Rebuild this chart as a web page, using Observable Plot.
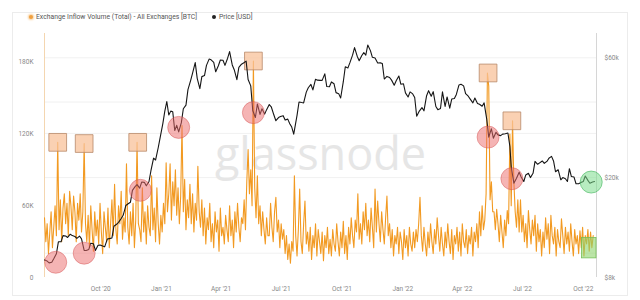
<!DOCTYPE html>
<html><head><meta charset="utf-8">
<script src="https://cdn.jsdelivr.net/npm/d3@7"></script>
<script src="https://cdn.jsdelivr.net/npm/@observablehq/plot@0.6"></script>
<style>
body{margin:0;background:#fff;font-family:Roboto,"Noto Sans",sans-serif;}
#wrap{position:relative;width:640px;height:300px;overflow:hidden;background:#fff}
#frame{position:absolute;left:12px;top:12px;width:616px;height:284px;border:1px solid #ececec;box-sizing:border-box;pointer-events:none}
#legend{position:relative;height:26px;font-size:6.8px;color:#555;}
#legend .it{position:absolute;top:14px;white-space:nowrap;line-height:7px}
#legend .dot{display:inline-block;width:4px;height:4px;border-radius:50%;margin-right:3px;vertical-align:0px}
svg{display:block}
</style></head>
<body><div id="wrap"><div id="frame"></div>
<div id="legend">
<span class="it" style="left:29px"><span class="dot" style="background:#f0a040;box-shadow:0 0 2px 1px #f8cf9a"></span>Exchange Inflow Volume (Total) - All Exchanges [BTC]</span>
<span class="it" style="left:212px"><span class="dot" style="background:#222"></span>Price [USD]</span>
</div>
<div id="chart"></div></div>
<script>
// Exchange inflow volume (thousand BTC), one value every 2 days from 2020-07-08
const inflowStart = "2020-07-08";
const inflowStepDays = 2;
const inflowK = [
50,30,45,20,38,55,25,42,60,35,
113,40,65,30,58,70,45,62,35,72,
60,40,68,55,30,62,48,70,38,55,
112,45,30,52,25,60,40,22,55,35,
48,28,62,38,20,55,42,30,58,25,
45,65,35,78,40,28,60,45,72,32,
50,38,95,42,28,55,35,62,25,48,
113,45,40,30,75,38,55,28,60,42,
35,85,40,58,30,75,45,28,52,38,
62,45,96,55,70,95,48,80,60,90,
52,75,45,68,127,55,82,40,65,50,
78,45,70,38,62,48,93,55,42,65,
35,58,28,50,40,62,30,45,25,55,
38,48,22,58,35,42,28,52,40,30,
60,35,48,25,55,38,62,42,30,50,
45,65,40,80,107,70,90,60,181,75,
50,85,45,60,35,55,40,28,50,35,
35,62,42,30,55,67,38,48,25,45,
32,40,20,35,15,28,12,30,22,85,
35,18,40,74,30,20,45,64,28,38,
22,42,15,35,25,45,18,40,30,20,
38,14,35,25,42,20,32,18,40,28,
22,45,30,18,38,25,47,20,35,15,
42,28,50,35,25,48,38,70,32,45,
28,55,40,62,35,48,30,58,42,25,
74,38,64,45,30,55,40,28,50,68,
35,45,25,40,18,35,28,42,20,38,
30,15,40,25,35,18,42,28,22,38,
25,40,30,45,67,35,22,42,28,18,
38,25,45,30,20,40,28,50,35,22,
42,28,18,38,25,45,30,20,40,15,
35,28,42,22,38,18,45,30,25,40,
20,35,28,42,18,38,30,45,25,55,
35,60,40,48,70,171,160,65,80,55,
55,40,57,45,30,52,38,25,48,35,
56,45,120,60,131,80,55,42,65,38,
65,38,52,30,45,25,56,40,28,48,
35,52,22,45,30,40,18,38,25,50,
32,45,20,52,35,28,42,18,40,30,
25,49,35,20,42,28,38,22,45,30,
18,40,28,35,20,39,25,42,18,35,
28,40,22,38,25,35];

// BTC price (USD)
const priceDates = [
"2020-07-08","2020-07-12","2020-07-15","2020-07-19","2020-07-22","2020-07-26","2020-07-29","2020-08-02","2020-08-05","2020-08-09","2020-08-12","2020-08-16","2020-08-19","2020-08-23","2020-08-26","2020-08-30","2020-09-02","2020-09-06","2020-09-09","2020-09-13","2020-09-16","2020-09-20","2020-09-23","2020-09-27","2020-09-30","2020-10-04","2020-10-07","2020-10-11","2020-10-14","2020-10-18","2020-10-21","2020-10-25","2020-10-28","2020-11-01","2020-11-04","2020-11-08","2020-11-11","2020-11-15","2020-11-18","2020-11-22","2020-11-25","2020-11-29","2020-12-02","2020-12-06","2020-12-09","2020-12-13","2020-12-16","2020-12-20","2020-12-23","2020-12-27","2020-12-30",
"2021-01-03","2021-01-06","2021-01-09","2021-01-12","2021-01-15","2021-01-18","2021-01-21","2021-01-24","2021-01-27","2021-01-31","2021-02-03","2021-02-07","2021-02-10","2021-02-14","2021-02-17","2021-02-21","2021-02-24","2021-02-28","2021-03-03","2021-03-07","2021-03-10","2021-03-14","2021-03-17","2021-03-21","2021-03-24","2021-03-28","2021-03-31","2021-04-04","2021-04-07","2021-04-11","2021-04-14","2021-04-18","2021-04-21","2021-04-25","2021-04-28","2021-05-02","2021-05-05","2021-05-09","2021-05-12","2021-05-16","2021-05-19","2021-05-23","2021-05-26","2021-05-30","2021-06-02","2021-06-06","2021-06-09","2021-06-13","2021-06-16","2021-06-20","2021-06-23","2021-06-27","2021-06-30","2021-07-04","2021-07-07","2021-07-11","2021-07-14","2021-07-17","2021-07-20","2021-07-25","2021-07-28","2021-08-01","2021-08-04","2021-08-08","2021-08-11","2021-08-15","2021-08-18","2021-08-22","2021-08-25","2021-08-29","2021-09-01","2021-09-05","2021-09-08","2021-09-12","2021-09-15","2021-09-19","2021-09-22","2021-09-26","2021-09-29","2021-10-03","2021-10-06","2021-10-10","2021-10-13","2021-10-17","2021-10-20","2021-10-24","2021-10-27","2021-10-31","2021-11-03","2021-11-06","2021-11-09","2021-11-13","2021-11-16","2021-11-20","2021-11-24","2021-11-28","2021-12-01","2021-12-04","2021-12-08","2021-12-12","2021-12-15","2021-12-19","2021-12-22","2021-12-26","2021-12-29",
"2022-01-02","2022-01-05","2022-01-09","2022-01-12","2022-01-16","2022-01-19","2022-01-22","2022-01-26","2022-01-30","2022-02-02","2022-02-06","2022-02-09","2022-02-13","2022-02-16","2022-02-20","2022-02-23","2022-02-27","2022-03-02","2022-03-06","2022-03-09","2022-03-13","2022-03-16","2022-03-20","2022-03-23","2022-03-27","2022-03-30","2022-04-03","2022-04-06","2022-04-10","2022-04-13","2022-04-17","2022-04-20","2022-04-24","2022-04-27","2022-05-01","2022-05-04","2022-05-08","2022-05-11","2022-05-15","2022-05-18","2022-05-22","2022-05-25","2022-05-29","2022-06-01","2022-06-05","2022-06-09","2022-06-12","2022-06-14","2022-06-18","2022-06-22","2022-06-26","2022-06-29","2022-07-03","2022-07-06","2022-07-10","2022-07-13","2022-07-17","2022-07-20","2022-07-24","2022-07-27","2022-07-31","2022-08-03","2022-08-07","2022-08-10","2022-08-14","2022-08-17","2022-08-20","2022-08-24","2022-08-28","2022-08-31","2022-09-04","2022-09-07","2022-09-10","2022-09-13","2022-09-17","2022-09-20","2022-09-24","2022-09-27","2022-10-01","2022-10-04","2022-10-08","2022-10-11","2022-10-15","2022-10-18"];
const priceUSD = [
9400,9300,9150,9200,9500,9950,11100,11100,11750,11700,11550,11900,11750,11650,11450,11700,11400,10250,10250,10350,10950,10900,10250,10750,10780,10670,10600,11380,11430,11500,12800,13030,13270,13740,14150,15480,15700,15960,17800,18400,18750,18170,19200,19150,18550,19250,21300,23900,23500,26300,28900,
32800,36800,40200,35500,36800,36600,30800,32300,30400,33100,37600,38900,44800,48700,52100,57400,49700,45200,50500,51000,56000,59300,58900,57500,52800,55800,58800,58700,56000,59800,63500,56200,53800,49100,55000,56600,57200,58200,49200,46400,37000,34700,39300,35700,37600,35800,37300,39100,38300,35500,33700,34700,35000,35300,33900,34200,32800,31800,29800,35400,40000,39800,39700,43800,45600,47000,44700,49300,48900,48800,48800,51800,46100,46000,48100,47300,43600,43200,41500,48200,55300,54700,57400,61500,65900,60900,58400,61300,62900,61500,67500,64100,60300,59900,57200,57300,57000,49400,50600,50100,48900,46700,48600,50800,47100,
47300,43500,41900,43900,43100,41700,35100,36800,38000,36900,42400,44400,42200,44000,38400,37300,37700,43900,38400,41900,37800,41100,41300,42900,46800,47100,46400,43200,42200,41100,39700,41500,39500,39200,38500,39700,34100,29000,31300,28700,30300,29600,29400,29800,29900,30100,26600,22100,19000,19900,21000,20100,19300,20500,20800,20000,20800,23200,22600,22900,23300,22800,23200,23900,24300,23300,21100,21500,19600,20000,19800,19300,21700,20200,20100,18900,18900,19100,19300,20300,19500,19000,19200,19300];

// annotations
const redCircleDates = ["2020-07-25","2020-09-06","2020-11-30","2021-01-27","2021-05-20","2022-05-10","2022-06-15"];
const redCirclePrices = [9200,10000,17800,31700,36300,29000,19800];
const greenCircleDates = ["2022-10-13"];
const greenCirclePrices = [19200];
const boxDates = ["2020-07-28","2020-09-06","2020-11-26","2021-05-20","2022-05-10","2022-06-15"];
const boxVolumesK = [113,112,113,181,171,131];
const greenBoxRange = {start:"2022-09-29", end:"2022-10-21", lowK:16, highK:33};

const leftTicks = [0,60000,120000,180000];
const leftTickLabels = ["0","60K","120K","180K"];
const priceTicks = [8000,20000,60000];
const priceTickLabels = ["$8k","$20k","$60k"];
const priceGrid = [10000,20000,30000,40000,60000];
const xDomain = ["2020-07-08","2022-10-21"];

const P_MIN = 8000, P_MAX = 75000, V_MAX = 204000;
const toY = p => Math.log(p / P_MIN) / Math.log(P_MAX / P_MIN) * V_MAX;
const D = s => new Date(s + "T00:00:00Z");

const start = D(inflowStart);
const inflow = inflowK.map((v, i) => ({date: d3.utcDay.offset(start, i * inflowStepDays), v: v * 1000}));
const price = priceDates.map((d, i) => ({date: D(d), y: toY(priceUSD[i])}));
const redC = redCircleDates.map((d, i) => ({date: D(d), y: toY(redCirclePrices[i])}));
const greenC = greenCircleDates.map((d, i) => ({date: D(d), y: toY(greenCirclePrices[i])}));
const boxes = boxDates.map((d, i) => ({date: D(d), v: boxVolumesK[i] * 1000}));
const gBox = [{x1: D(greenBoxRange.start), x2: D(greenBoxRange.end), y1: greenBoxRange.lowK*1000, y2: greenBoxRange.highK*1000}];
const leftMap = new Map(leftTicks.map((t, i) => [t, leftTickLabels[i]]));
const rightVals = priceTicks.map(toY);
const rightMap = new Map(rightVals.map((t, i) => [t, priceTickLabels[i]]));
const fmt = d3.utcFormat("%b '%y");

const chart = Plot.plot({
  width: 640, height: 274,
  marginTop: 7, marginBottom: 23, marginLeft: 44, marginRight: 44,
  style: {fontFamily: "Roboto, 'Noto Sans', sans-serif", background: "transparent"},
  x: {type: "utc", domain: xDomain.map(D)},
  y: {domain: [0, V_MAX]},
  marks: [
    Plot.ruleY(priceGrid.map(toY), {stroke: "#f1f1f1", strokeWidth: 1}),
    Plot.text(["glassnode"], {frameAnchor: "middle", fontSize: 45, fill: "#e6e6e6", fontFamily: "'Open Sans', sans-serif", fontWeight: 500}),
    Plot.ruleX([D(xDomain[0])], {stroke: "#f4d6b0", strokeWidth: 1}),
    Plot.ruleX([D(xDomain[1])], {stroke: "#d6d6d6", strokeWidth: 1}),
    Plot.axisX({ticks: d3.utcMonth.every(3), tickFormat: fmt, tickSize: 0, tickPadding: 9, fontSize: 6.5, fill: "#888", label: null}),
    Plot.axisY(leftTicks, {anchor: "left", tickSize: 0, tickPadding: 11, tickFormat: d => leftMap.get(d), fontSize: 6.5, fill: "#888", label: null}),
    Plot.axisY(rightVals, {anchor: "right", tickSize: 0, tickPadding: 8, tickFormat: d => rightMap.get(d), fontSize: 6.5, fill: "#888", label: null}),
    Plot.line(inflow, {x: "date", y: "v", stroke: "#f29a22", strokeWidth: 1.1}),
    Plot.rect(gBox, {x1: "x1", x2: "x2", y1: "y1", y2: "y2", fill: "#8dd46c", fillOpacity: 0.6, stroke: "#76c058", strokeWidth: 0.8}),
    Plot.dot(boxes, {x: "date", y: "v", symbol: "square", r: 10, fill: "#f8c29a", fillOpacity: 0.75, stroke: "#b8896a", strokeWidth: 0.8}),
    Plot.line(price, {x: "date", y: "y", stroke: "#151515", strokeWidth: 1.1}),
    Plot.dot(redC, {x: "date", y: "y", r: 11, fill: "#ec6a6a", fillOpacity: 0.5, stroke: "#d24c4c", strokeOpacity: 0.55, strokeWidth: 0.8}),
    Plot.dot(greenC, {x: "date", y: "y", r: 11, fill: "#7bdc8c", fillOpacity: 0.55, stroke: "#4cb864", strokeOpacity: 0.8, strokeWidth: 0.8})
  ]
});
document.getElementById("chart").appendChild(chart);
</script>
</body></html>
